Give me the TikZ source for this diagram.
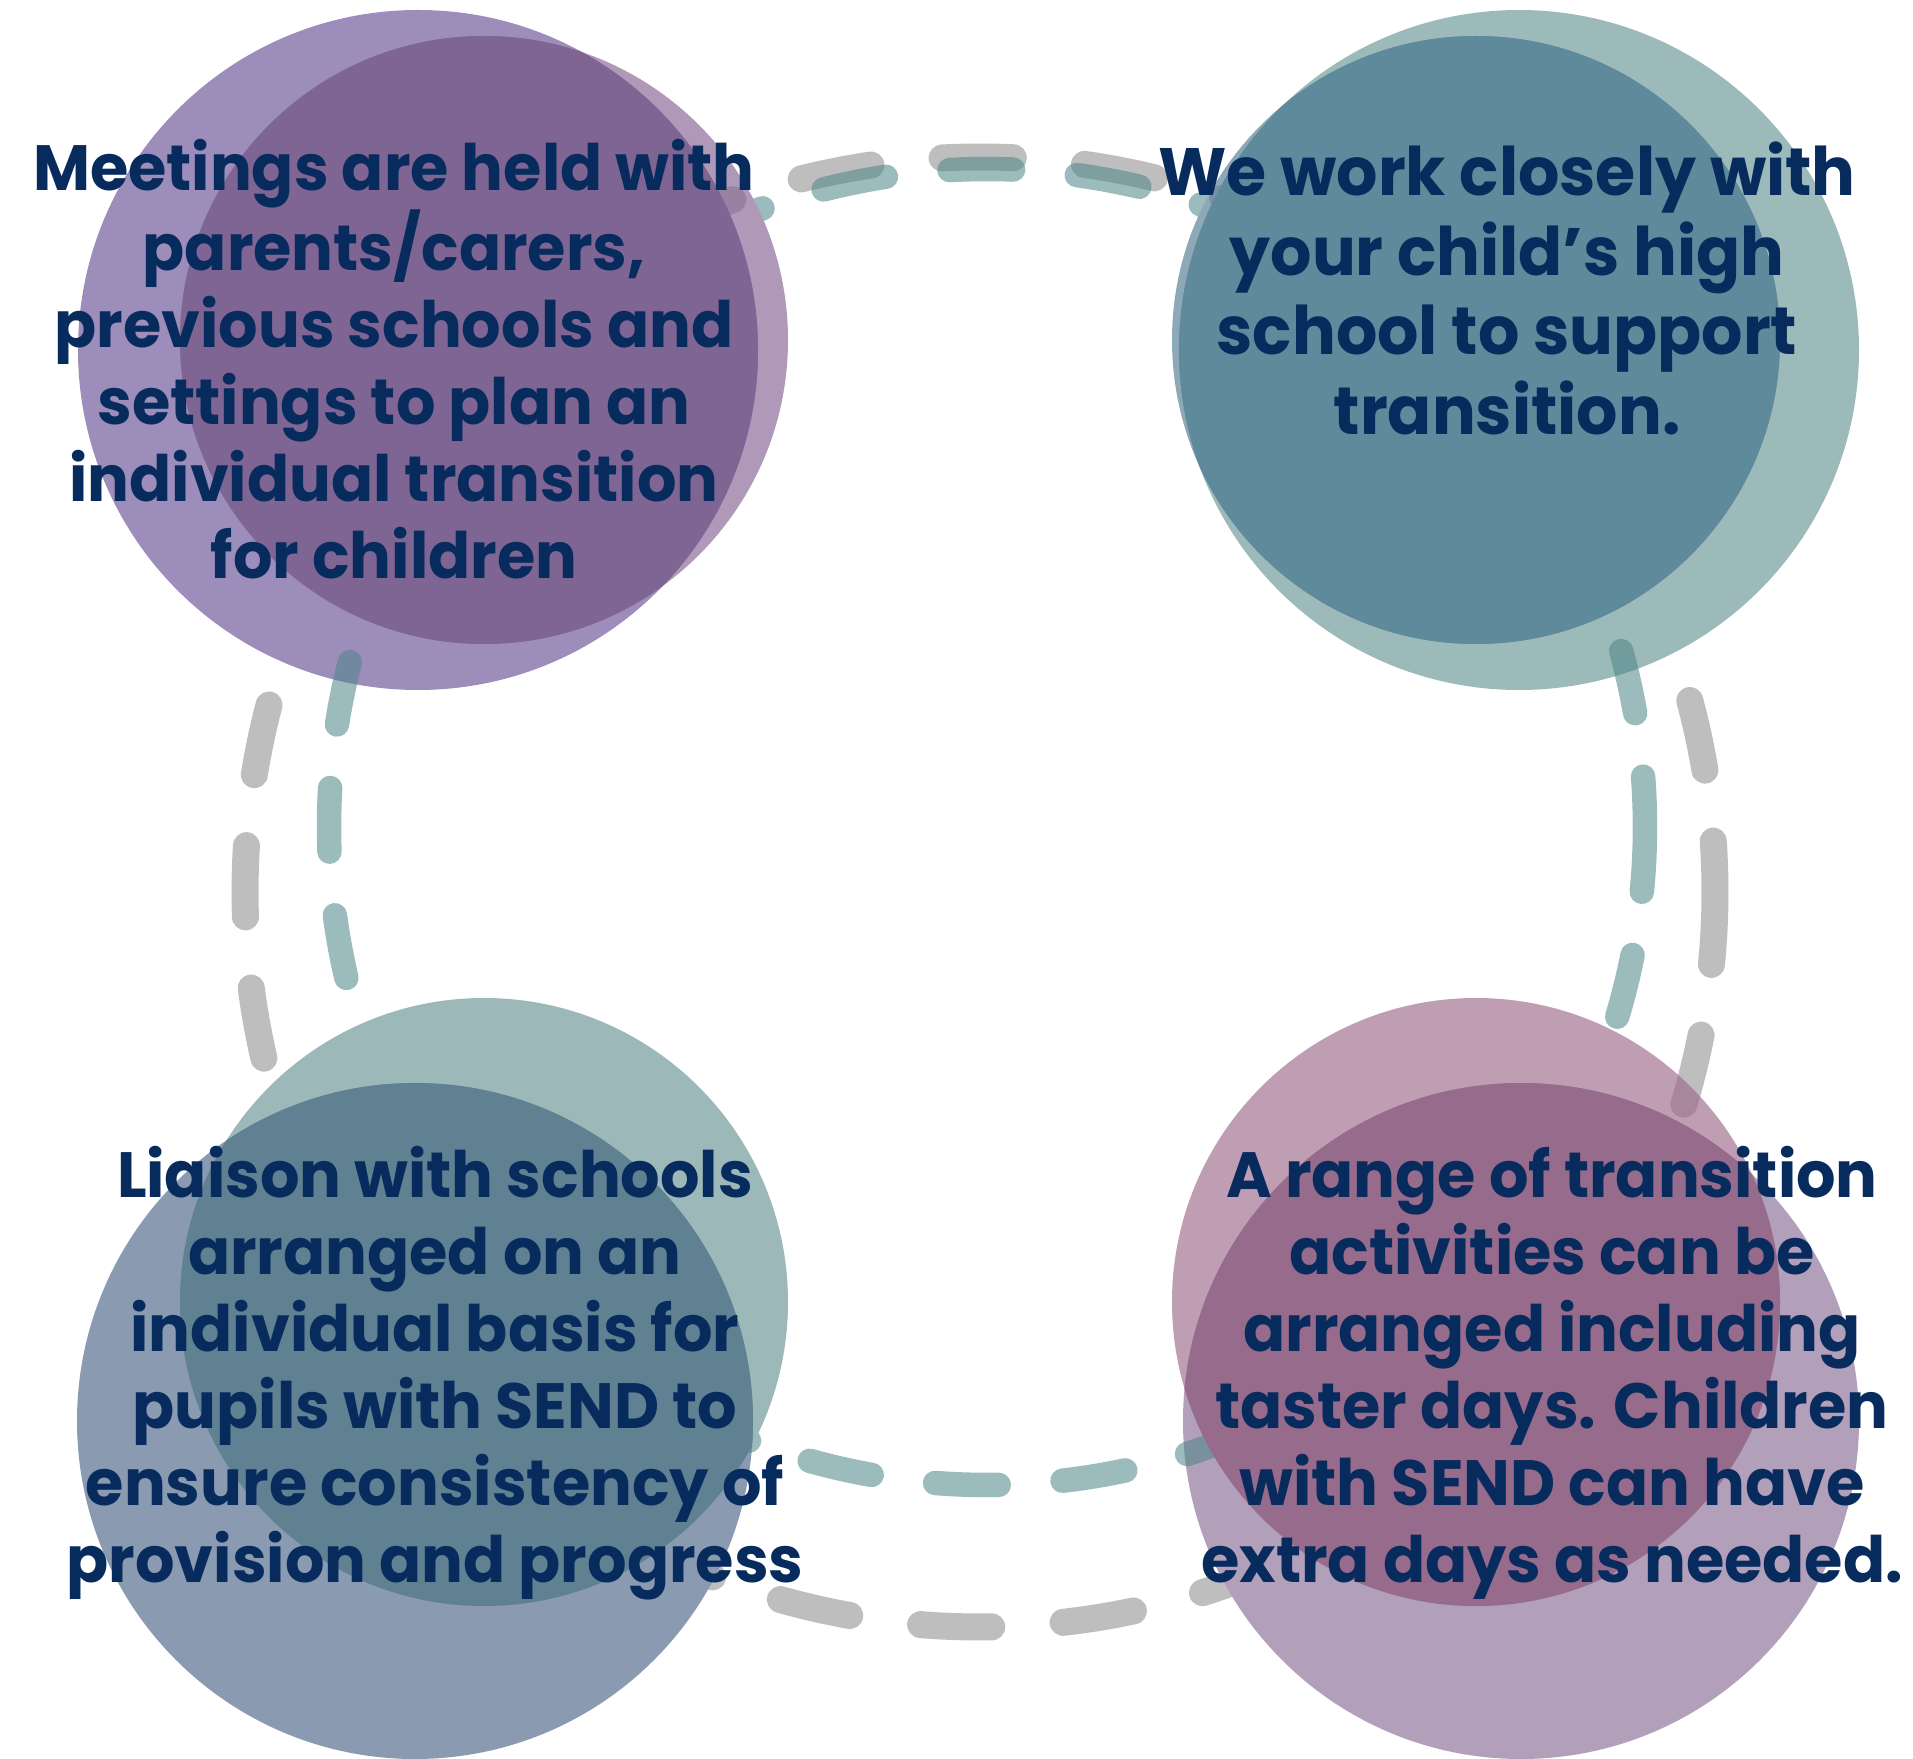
\documentclass[tikz,border=0pt]{standalone}
\usepackage{fontspec}
\newfontfamily\lbl{Poppins}[FakeStretch=0.97]
\definecolor{txt}{HTML}{082B5E}
\definecolor{dgray}{HTML}{BEBEBE}
\definecolor{dteal}{HTML}{4E8689}
% top-left cluster
\definecolor{tlA}{HTML}{9D8DBA}
\definecolor{tlB}{HTML}{866192}
\definecolor{tlO}{HTML}{7F6593}
% top-right cluster
\definecolor{trA}{HTML}{9DBABB}
\definecolor{trB}{HTML}{517B93}
\definecolor{trO}{HTML}{5F8A9B}
% bottom-left cluster
\definecolor{blA}{HTML}{8A9AB1}
\definecolor{blB}{HTML}{679295}
\definecolor{blO}{HTML}{5F8191}
% bottom-right cluster
\definecolor{brA}{HTML}{B29FBA}
\definecolor{brB}{HTML}{9D6B8C}
\definecolor{brO}{HTML}{976B8B}
\tikzset{
  graydash/.style={draw=dgray, line width=13.5pt, line cap=round,
    dash pattern=on 35.6pt off 35.75pt},
  tealdash/.style={draw=dteal, draw opacity=0.56, line width=12.25pt, line cap=round,
    dash pattern=on 31.85pt off 31.95pt},
  blobB/.style={fill opacity=0.65},
  lbltext/.style={font=\lbl\bfseries\fontsize{32}{38.5}\selectfont, text=txt,
    align=center, inner sep=0pt}
}
\begin{document}
\begin{tikzpicture}[x=0.5pt,y=-0.5pt]
\useasboundingbox (0,0) rectangle (1913,1759);
\clip (0,0) rectangle (1913,1759);
\fill[white] (0,0) rectangle (1913,1759);

\coordinate (gc) at (980,892);
\coordinate (tc) at (987,827);
% circles' centres
\coordinate (tla) at (418,350);  \coordinate (tlb) at (484,340);
\coordinate (tra) at (1519,350); \coordinate (trb) at (1476,340);
\coordinate (bla) at (415,1421); \coordinate (blb) at (484,1302);
\coordinate (bra) at (1521,1421);\coordinate (brb) at (1476,1302);

% grey dashed ring
\draw[graydash] (gc) ++(0.1:735) arc[start angle=0.1, end angle=360.1, radius=735];

% large circles (opaque)
\fill[tlA] (tla) circle[radius=340];
\fill[trA] (tra) circle[radius=340];
\fill[blA] (bla) circle[radius=338];
\fill[brA] (bra) circle[radius=338];

% teal dashed ring, kept out of the small circles
\begin{scope}[even odd rule]
\clip (0,0) rectangle (1913,1759)
  (tlb) circle[radius=304] (trb) circle[radius=304]
  (blb) circle[radius=304] (brb) circle[radius=304];
\draw[tealdash] (tc) ++(0.1:658) arc[start angle=0.1, end angle=360.1, radius=658];
\end{scope}

% small circles (translucent)
\fill[tlB, blobB] (tlb) circle[radius=304];
\fill[trB, blobB] (trb) circle[radius=304];
\fill[blB, blobB] (blb) circle[radius=304];
\fill[brB, blobB] (brb) circle[radius=304];

% overlaps
\begin{scope}\clip (tla) circle[radius=340]; \fill[tlO] (tlb) circle[radius=304];\end{scope}
\begin{scope}\clip (tra) circle[radius=340]; \fill[trO] (trb) circle[radius=304];\end{scope}
\begin{scope}\clip (bla) circle[radius=338]; \fill[blO] (blb) circle[radius=304];\end{scope}
\begin{scope}\clip (bra) circle[radius=338]; \fill[brO] (brb) circle[radius=304];\end{scope}

% texts (base anchor = baseline of the last line)
\node[lbltext, anchor=base] (ttl) at (394,579) {Meetings are held with\\parents/carers,\\previous schools and\\settings to plan an\\individual transition\\for children};
\node[lbltext, anchor=base, font=\lbl\bfseries\fontsize{33.5}{39.75}\selectfont] (ttr) at (1507,434.5) {We work closely with\\your child’s high\\school to support\\transition.};
\node[lbltext, anchor=base] (tbl) at (435,1582) {Liaison with schools\\arranged on an\\individual basis for\\pupils with SEND to\\ensure consistency of\\provision and progress};
\node[lbltext, anchor=base] (tbr) at (1552,1582) {A range of transition\\activities can be\\arranged including\\taster days. Children\\with SEND can have\\extra days as needed.};
\end{tikzpicture}
\end{document}
